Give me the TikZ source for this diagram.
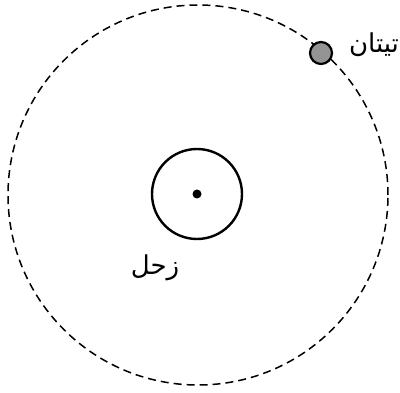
\documentclass[tikz,border=0pt]{standalone}
\usepackage{fontspec}
\newfontfamily\arabicfont[Script=Arabic]{DejaVu Sans}
\TeXXeTstate=1
\begin{document}
\begin{tikzpicture}[x=1pt,y=1pt,
  orbit/.style={draw=black,line width=1.5pt,dash pattern=on 8pt off 5pt},
  planet/.style={draw=black,line width=2.4pt,circle,inner sep=0pt},
  lbl/.style={font=\arabicfont\fontsize{26}{30}\selectfont,inner sep=0pt}]
\useasboundingbox (0,0) rectangle (400,392);
\coordinate (c) at (198,197);
\draw[orbit] (c) circle (190);
\node[planet,minimum size=90pt] (saturn) at (197,198) {};
\fill (saturn.center) circle (4.5);
\node[planet,fill=black!42,minimum size=22pt,line width=2.2pt] (titan) at (321,339) {};
\node[lbl] (tl) at (374,347) {\beginR تيتان\endR};
\node[lbl] (sl) at (155,124) {\beginR زحل\endR};
\end{tikzpicture}
\end{document}
